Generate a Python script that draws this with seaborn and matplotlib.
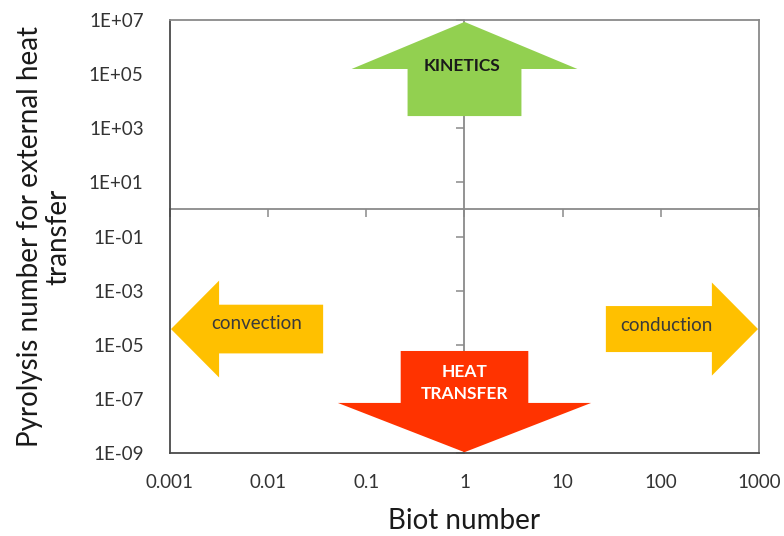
import numpy as np
import matplotlib
matplotlib.use("Agg")
import matplotlib.pyplot as plt
from matplotlib.ticker import NullLocator, FixedLocator
import seaborn as sns

# ---------------- data ----------------
x_ticks = [0.001, 0.01, 0.1, 1, 10, 100, 1000]
x_tick_labels = ["0.001", "0.01", "0.1", "1", "10", "100", "1000"]
y_ticks = [1e-9, 1e-7, 1e-5, 1e-3, 1e-1, 1e1, 1e3, 1e5, 1e7]
y_tick_labels = ["1E-09", "1E-07", "1E-05", "1E-03", "1E-01",
                 "1E+01", "1E+03", "1E+05", "1E+07"]
x_cross = 1.0   # vertical axis crosses at Biot = 1
y_cross = 1.0   # horizontal axis crosses at Pyrolysis number = 1

x_label = "Biot number"
y_label = "Pyrolysis number for external heat\ntransfer"

# regime arrows (geometry in log10 decades)
arrow_labels = ["KINETICS", "HEAT\nTRANSFER", "convection", "conduction"]
arrow_dirs = ["up", "down", "left", "right"]
arrow_colors = ["#92D050", "#FF3300", "#FFC000", "#FFC000"]
arrow_center = [0.0, 0.0, -4.42, -4.42]
arrow_tail = [3.45, -5.23, -1.44, 1.44]
arrow_base = [5.19, -7.15, -2.50, 2.52]
arrow_tip = [6.93, -8.97, -2.99, 2.99]
arrow_shaft_half = [0.58, 0.65, 0.90, 0.85]
arrow_head_half = [1.15, 1.29, 1.79, 1.72]
label_pos = [(-0.03, 5.30), (0.0, -6.40), (-2.12, -4.23), (2.06, -4.30)]
label_colors = ["#1a1a1a", "white", "#3a3a3a", "#3a3a3a"]
label_weights = ["bold", "bold", "normal", "normal"]
label_sizes = [12.5, 12.5, 13.5, 13.5]

# ---------------- style ----------------
sns.set_theme(style="white")
plt.rcParams["font.family"] = ["Lato", "DejaVu Sans"]

fig = plt.figure(figsize=(7.84, 5.36), dpi=100)
ax = fig.add_axes([170 / 784, 1 - 453 / 536, 589 / 784, 433 / 536])
ax.set_xscale("log")
ax.set_yscale("log")
ax.set_xlim(x_ticks[0], x_ticks[-1])
ax.set_ylim(y_ticks[0], y_ticks[-1])
ax.set_facecolor("white")

ax.xaxis.set_major_locator(FixedLocator(x_ticks))
ax.yaxis.set_major_locator(FixedLocator(y_ticks))
ax.xaxis.set_minor_locator(NullLocator())
ax.yaxis.set_minor_locator(NullLocator())
ax.set_xticklabels(x_tick_labels)
ax.set_yticklabels(y_tick_labels)
ax.tick_params(axis="both", which="both", length=0, labelsize=13.5,
               labelcolor="#333333")
ax.tick_params(axis="y", pad=19)
ax.tick_params(axis="x", pad=15)

for side in ["left", "bottom"]:
    ax.spines[side].set_color("#4a4a4a")
    ax.spines[side].set_linewidth(1.3)
for side in ["top", "right"]:
    ax.spines[side].set_color("#8a8a8a")
    ax.spines[side].set_linewidth(1.3)

ax.set_xlabel(x_label, fontsize=20, color="#1a1a1a")
ax.set_ylabel(y_label, fontsize=20, color="#1a1a1a", linespacing=1.1)
ax.xaxis.set_label_coords(0.5, -0.128)
ax.yaxis.set_label_coords(-0.168, 0.5)

# ---------------- crossing axes ----------------
axis_grey = "#8a8a8a"
secx = ax.secondary_xaxis(y_cross, transform=ax.transData)
secx.set_alignment("bottom")
secx.xaxis.set_major_locator(FixedLocator(x_ticks))
secx.xaxis.set_minor_locator(NullLocator())
secx.tick_params(axis="x", which="major", direction="out", length=6,
                 width=1.1, color=axis_grey, labelbottom=False, labeltop=False)
secx.spines["bottom"].set_color(axis_grey)
secx.spines["bottom"].set_linewidth(1.3)
secx.patch.set_visible(False)

secy = ax.secondary_yaxis(x_cross, transform=ax.transData)
secy.set_alignment("left")
secy.yaxis.set_major_locator(FixedLocator(y_ticks))
secy.yaxis.set_minor_locator(NullLocator())
secy.tick_params(axis="y", which="major", direction="out", length=6,
                 width=1.1, color=axis_grey, labelleft=False, labelright=False)
secy.spines["left"].set_color(axis_grey)
secy.spines["left"].set_linewidth(1.3)
secy.patch.set_visible(False)

# ---------------- arrows ----------------
def arrow_polygon(direction, c, t, b, p, sw, hw):
    if direction in ("up", "down"):
        pts = [(c - sw, t), (c + sw, t), (c + sw, b), (c + hw, b), (c, p),
               (c - hw, b), (c - sw, b)]
    else:
        pts = [(t, c - sw), (t, c + sw), (b, c + sw), (b, c + hw), (p, c),
               (b, c - hw), (b, c - sw)]
    pts = np.array(pts)
    return 10 ** pts[:, 0], 10 ** pts[:, 1]

for i in range(len(arrow_labels)):
    xs, ys = arrow_polygon(arrow_dirs[i], arrow_center[i], arrow_tail[i],
                           arrow_base[i], arrow_tip[i], arrow_shaft_half[i],
                           arrow_head_half[i])
    ax.fill(xs, ys, color=arrow_colors[i], lw=0, zorder=3)
    lx, ly = label_pos[i]
    ax.text(10 ** lx, 10 ** ly, arrow_labels[i], ha="center", va="center",
            color=label_colors[i], fontweight=label_weights[i],
            fontsize=label_sizes[i], linespacing=1.45, zorder=4)

fig.savefig("out.png", dpi=100)
